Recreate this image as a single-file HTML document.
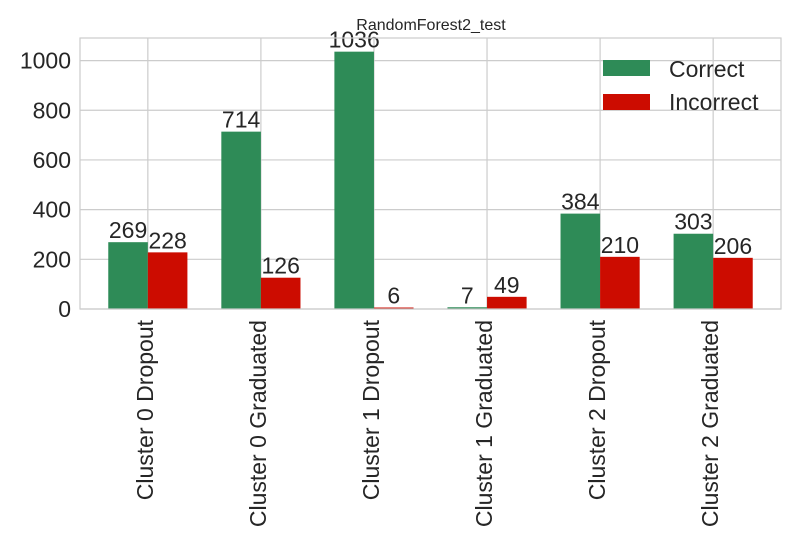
<!DOCTYPE html>
<html><head><meta charset="utf-8"><style>
body{margin:0;background:#fff;}
svg{display:block;font-family:"Liberation Sans",sans-serif;}
</style></head><body>
<svg id="chart" width="800" height="550">
<rect width="800" height="550" fill="#fff"/>
<text x="431" y="30" font-size="16" fill="#262626" text-anchor="middle">RandomForest2_test</text>
<g id="grid"></g><g id="bars"></g><g id="labels"></g>
<rect x="80" y="38" width="701" height="271" fill="none" stroke="#cccccc" stroke-width="1.2"/>
<g>
<rect x="603" y="60" width="47" height="16" fill="#2e8b57"/>
<text x="669" y="77" font-size="23" fill="#262626">Correct</text>
<rect x="603" y="94" width="47" height="16" fill="#cc0c00"/>
<text x="669" y="110" font-size="23" fill="#262626">Incorrect</text>
</g>
</svg>
<script>
const categories=["Cluster 0 Dropout","Cluster 0 Graduated","Cluster 1 Dropout","Cluster 1 Graduated","Cluster 2 Dropout","Cluster 2 Graduated"];
const correct=[269,714,1036,7,384,303];
const incorrect=[228,126,6,49,210,206];
const yTicks=[0,200,400,600,800,1000];
const NS="http://www.w3.org/2000/svg";
const L=80,R=781,T=38,B=309,ymax=1091,xmin=-0.6,xmax=5.6;
const xs=v=>L+(v-xmin)/(xmax-xmin)*(R-L);
const ys=v=>B-v/ymax*(B-T);
function mk(tag,attrs,parent){const e=document.createElementNS(NS,tag);for(const k in attrs)e.setAttribute(k,attrs[k]);document.getElementById(parent).appendChild(e);return e;}
yTicks.forEach(t=>{
 const l=mk("line",{x1:L,x2:R,y1:ys(t),y2:ys(t),stroke:"#cccccc","stroke-width":1.2},"grid");
 
 
 const tx=mk("text",{x:L-9,y:ys(t)+8,"font-size":23,fill:"#262626","text-anchor":"end"},"labels");
 tx.textContent=t;
 
 
});
const bw=0.35*(R-L)/(xmax-xmin);
categories.forEach((c,i)=>{
 const g=mk("line",{x1:xs(i),x2:xs(i),y1:T,y2:B,stroke:"#cccccc","stroke-width":1.2},"grid");
 
 
 [[correct[i],"#2e8b57",-1,"correct"],[incorrect[i],"#cc0c00",0,"incorrect"]].forEach(([v,col,off,nm])=>{
  const x=xs(i)+off*bw;
  const r=mk("rect",{x:x,y:ys(v),width:bw,height:B-ys(v),fill:col},"bars");
  
  
  const t=mk("text",{x:x+bw/2,y:ys(v)-4,"font-size":23,fill:"#262626","text-anchor":"middle"},"labels");
  t.textContent=v;
  
  
 });
 const cx=xs(i)+5;
 const lab=mk("text",{x:cx,y:320,"font-size":23,fill:"#262626","text-anchor":"end",transform:`rotate(-90 ${cx} 320)`},"labels");
 lab.textContent=c;
 
 
});
</script>
</body></html>
